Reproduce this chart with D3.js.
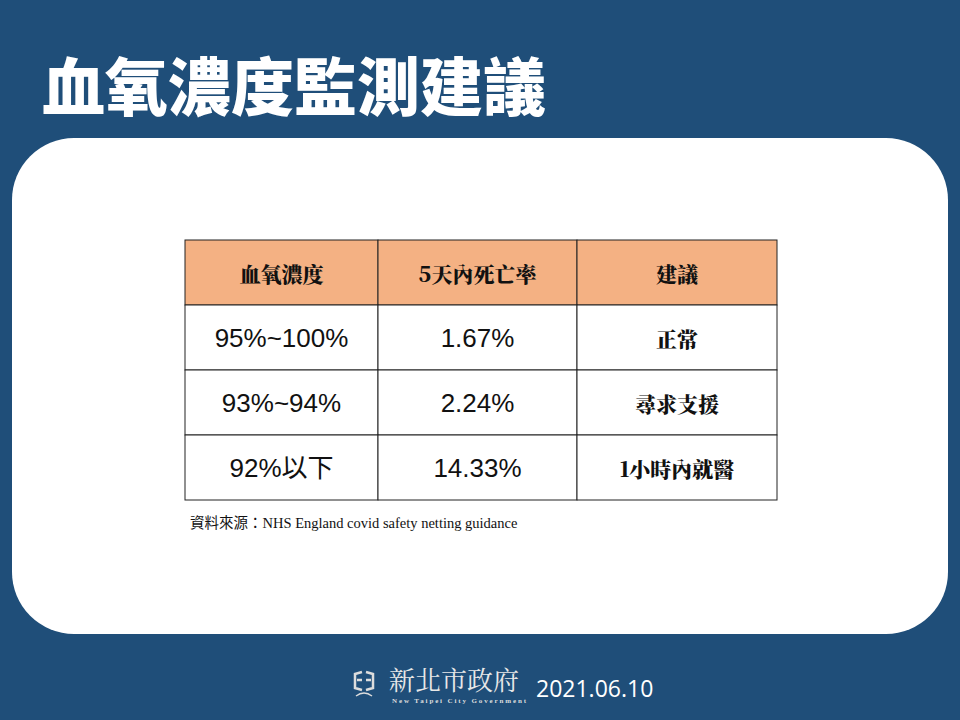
<!DOCTYPE html>
<html><head><meta charset="utf-8">
<script src="https://cdn.jsdelivr.net/npm/d3@7"></script>
<style>body{margin:0;background:#1f4e79}</style>
</head><body>
<script>
// table data
const headers = ["血氧濃度", "5天內死亡率", "建議"];
const oxygen = ["95%~100%", "93%~94%", "92%以下"];
const mortality = ["1.67%", "2.24%", "14.33%"];
const advice = ["正常", "尋求支援", "1小時內就醫"];

const W = 960, H = 720;
const svg = d3.select("body").append("svg").attr("width", W).attr("height", H);
svg.append("rect").attr("width", W).attr("height", H).attr("fill", "#1f4e79");

svg.append("text").attr("x", 42).attr("y", 110)
  .attr("font-family", "Noto Sans CJK TC").attr("font-weight", 900)
  .attr("font-size", 63).attr("fill", "#fff").text("血氧濃度監測建議");

svg.append("rect").attr("x", 12).attr("y", 138).attr("width", 936).attr("height", 496)
  .attr("rx", 62).attr("fill", "#fff");

// column / row scales
const colEdges = [185, 378, 577, 777];
const x = d3.scaleOrdinal().domain([0, 1, 2]).range(colEdges.slice(0, 3));
const y = d3.scaleBand().domain(d3.range(4)).range([240, 500]);

const rows = [headers].concat(oxygen.map((o, i) => [o, mortality[i], advice[i]]));
const g = svg.append("g");
rows.forEach((r, ri) => {
  r.forEach((t, ci) => {
    const x0 = x(ci), w = colEdges[ci + 1] - x0;
    g.append("rect").attr("x", x0).attr("y", y(ri)).attr("width", w).attr("height", y.bandwidth())
      .attr("fill", ri === 0 ? "#f4b183" : "#fff").attr("stroke", "#222").attr("stroke-width", 1);
    const serif = ri === 0 || ci === 2;
    g.append("text").attr("x", x0 + w / 2).attr("y", y(ri) + y.bandwidth() / 2)
      .attr("text-anchor", "middle").attr("dominant-baseline", "central")
      .attr("font-family", serif ? "Noto Serif CJK TC, Noto Sans CJK TC" : "Liberation Sans, Noto Sans CJK TC")
      .attr("font-weight", serif ? 900 : 400)
      .attr("font-size", serif ? 21 : 26).attr("fill", "#111").text(t);
  });
});

svg.append("text").attr("x", 190).attr("y", 528)
  .attr("font-family", "Liberation Serif, Noto Sans CJK TC").attr("font-size", 14.5).attr("fill", "#111")
  .text("資料來源：NHS England covid safety netting guidance");

// footer
svg.append("text").attr("x", 389).attr("y", 690).attr("font-family", "Noto Serif CJK TC, Noto Sans CJK TC")
  .attr("font-size", 26).attr("fill", "#e8e8e8").text("新北市政府");
svg.append("text").attr("x", 392).attr("y", 703).attr("font-family", "Liberation Serif")
  .attr("font-size", 7).attr("fill", "#ddd").attr("font-weight", 700)
  .attr("textLength", 134).text("New Taipei City Government");
svg.append("text").attr("x", 536).attr("y", 697).attr("font-family", "Open Sans")
  .attr("font-size", 23).attr("fill", "#fff").text("2021.06.10");
const logo = svg.append("g").attr("transform", "translate(352,668)").attr("fill", "none")
  .attr("stroke", "#ddd").attr("stroke-width", 2.5);
logo.append("path").attr("d", "M10,4 L3,6 L3,20 L10,22 M14,4 L21,6 L21,20 L14,22 M5,12 H10 M14,12 H19");
logo.append("path").attr("d", "M4,28 Q12,22 20,28").attr("stroke-width", 1.5);
</script>
</body></html>
